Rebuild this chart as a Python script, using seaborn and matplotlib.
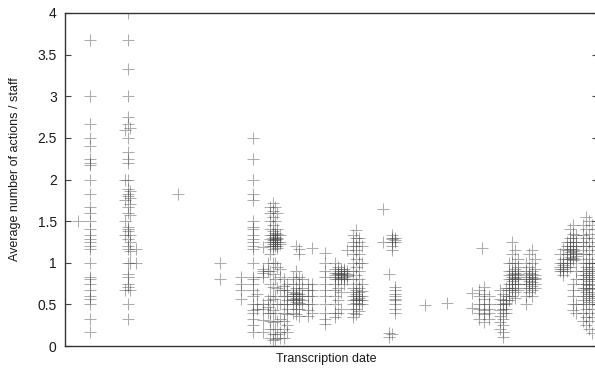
import matplotlib
matplotlib.use("Agg")
import matplotlib.pyplot as plt
import seaborn as sns
import pandas as pd
from matplotlib.ticker import FuncFormatter

# Transcription dates (day index) and the averages recorded on each date
dates = [13, 25, 60, 63, 65, 71, 113, 155, 176, 188, 192, 198, 203, 205, 208, 210,
         212, 215, 219, 222, 228, 231, 234, 237, 243, 247, 260, 270, 273, 276, 279,
         282, 288, 291, 294, 297, 318, 324, 327, 330, 360, 382, 407, 414, 417, 419,
         424, 435, 438, 441, 444, 447, 450, 453, 461, 464, 467, 470, 495, 498, 502,
         505, 508, 511, 518, 521, 524, 527, 530]

values_per_date = [
    [1.5],
    [3.67, 3.0, 2.67, 2.5, 2.4, 2.25, 2.2, 2.17, 2.0, 1.83, 1.67, 1.6, 1.5, 1.4, 1.33,
     1.29, 1.25, 1.2, 1.17, 1.0, 0.83, 0.8, 0.75, 0.67, 0.6, 0.57, 0.5, 0.33, 0.17],
    [2.6, 2.0, 1.75, 1.5, 1.33, 0.67],
    [4.0, 3.67, 3.33, 3.0, 2.75, 2.67, 2.5, 2.33, 2.25, 2.2, 2.0, 1.88, 1.83, 1.8, 1.67,
     1.6, 1.43, 1.4, 1.38, 1.29, 1.2, 1.17, 1.0, 0.86, 0.83, 0.75, 0.71, 0.5, 0.33],
    [2.62, 1.86, 1.78, 1.71, 1.57, 1.33, 1.25, 1.14, 1.0, 0.67],
    [1.17, 1.0],
    [1.83],
    [1.0, 0.8],
    [0.83, 0.75, 0.67, 0.57],
    [2.5, 2.25, 2.0, 1.83, 1.75, 1.5, 1.43, 1.4, 1.33, 1.29, 1.25, 1.2, 1.17, 1.0, 0.83,
     0.8, 0.75, 0.67, 0.6, 0.5, 0.43, 0.4, 0.33, 0.25, 0.17],
    [0.62, 0.5, 0.44],
    [1.19, 0.92, 0.9, 0.88, 0.83, 0.5, 0.44, 0.31, 0.17],
    [1.0, 0.9, 0.55, 0.47, 0.4],
    [1.67, 1.6, 1.5, 1.4, 1.33, 1.29, 1.25, 1.2, 1.1, 0.9, 0.75, 0.6, 0.5, 0.4, 0.3, 0.2, 0.1],
    [1.72, 1.62, 1.55, 1.45, 1.38, 1.33, 1.3, 1.27, 1.25, 1.22, 1.2, 1.17, 1.0, 0.86,
     0.71, 0.57, 0.43, 0.29, 0.14, 0.07],
    [1.67, 1.5, 1.36, 1.33, 1.31, 1.29, 1.27, 1.25, 1.22, 1.2, 1.0, 0.8, 0.6, 0.4, 0.2, 0.08],
    [1.6, 1.4, 1.35, 1.3, 1.28, 1.25, 1.2, 1.18, 0.95, 0.7, 0.5, 0.3, 0.15],
    [1.33, 1.25, 1.22, 0.93, 0.83, 0.67, 0.5, 0.33, 0.17, 0.1],
    [0.8, 0.72, 0.67, 0.6, 0.5, 0.4, 0.3, 0.2, 0.1],
    [0.75, 0.67, 0.6, 0.55, 0.5, 0.45, 0.38, 0.25, 0.17],
    [0.83, 0.75, 0.65, 0.62, 0.6, 0.57, 0.55, 0.5, 0.4],
    [1.2, 0.9, 0.8, 0.7, 0.64, 0.62, 0.6, 0.58, 0.55, 0.53, 0.5, 0.45, 0.38],
    [1.17, 1.1, 0.83, 0.75, 0.67, 0.63, 0.6, 0.57, 0.52, 0.45, 0.36],
    [0.8, 0.7, 0.6, 0.55, 0.5],
    [0.75, 0.67, 0.6, 0.5, 0.43, 0.36],
    [1.18, 0.75, 0.67, 0.6, 0.5, 0.4],
    [1.12, 1.0, 0.9, 0.83, 0.75, 0.67, 0.6, 0.5, 0.4, 0.33, 0.27],
    [1.0, 0.92, 0.88, 0.85, 0.83, 0.8, 0.75, 0.67, 0.6, 0.5, 0.4, 0.35],
    [0.95, 0.9, 0.88, 0.86, 0.83, 0.8, 0.7, 0.55, 0.4],
    [0.93, 0.9, 0.87, 0.85, 0.82, 0.8, 0.65, 0.45],
    [0.92, 0.9, 0.88, 0.85, 0.83, 0.8, 0.75],
    [1.15, 0.9, 0.86, 0.84, 0.81],
    [1.33, 1.25, 1.2, 1.1, 1.0, 0.9, 0.8, 0.7, 0.65, 0.6, 0.55, 0.5, 0.45, 0.4, 0.35],
    [1.39, 1.3, 1.2, 1.15, 1.05, 0.95, 0.85, 0.75, 0.67, 0.63, 0.6, 0.57, 0.55, 0.52, 0.45, 0.38],
    [1.3, 1.25, 1.1, 1.0, 0.9, 0.8, 0.7, 0.65, 0.6, 0.58, 0.55, 0.5, 0.42],
    [1.2, 1.0, 0.75, 0.66, 0.6, 0.55, 0.5],
    [1.65, 1.25],
    [0.86, 0.16, 0.11],
    [1.33, 1.3, 1.29, 1.25, 1.2, 1.15, 0.14],
    [1.3, 1.27, 1.25, 0.71, 0.67, 0.62, 0.6, 0.57, 0.55, 0.5, 0.45, 0.4],
    [0.49],
    [0.52],
    [0.64, 0.46],
    [0.67, 0.6, 0.5, 0.45, 0.4, 0.33],
    [1.18],
    [0.71, 0.62, 0.57, 0.5, 0.43, 0.38, 0.29],
    [0.6, 0.5, 0.45, 0.4, 0.33],
    [0.67, 0.57, 0.5, 0.43, 0.36, 0.29, 0.2],
    [0.62, 0.55, 0.5, 0.45, 0.4, 0.33, 0.25, 0.17, 0.11],
    [0.7, 0.6, 0.55, 0.52, 0.5, 0.45, 0.4],
    [1.0, 0.9, 0.85, 0.8, 0.75, 0.7, 0.67, 0.6, 0.55],
    [1.25, 1.1, 1.0, 0.9, 0.86, 0.83, 0.8, 0.78, 0.75, 0.7, 0.67, 0.6],
    [1.15, 1.0, 0.92, 0.88, 0.85, 0.82, 0.8, 0.75, 0.7, 0.65, 0.58],
    [1.05, 0.95, 0.9, 0.86, 0.83, 0.8, 0.75, 0.67],
    [1.0, 0.9, 0.85, 0.8, 0.75, 0.7, 0.6, 0.5],
    [1.1, 0.95, 0.88, 0.83, 0.8, 0.78, 0.75, 0.7, 0.65],
    [1.15, 1.0, 0.9, 0.86, 0.83, 0.8, 0.77, 0.72, 0.67, 0.6],
    [1.05, 0.92, 0.85, 0.82, 0.8, 0.75, 0.7],
    [1.1, 1.0, 0.95, 0.92, 0.9],
    [1.17, 1.05, 1.0, 0.97, 0.93, 0.9, 0.85],
    [1.25, 1.2, 1.15, 1.1, 1.05, 1.0, 0.95, 0.9],
    [1.4, 1.3, 1.25, 1.2, 1.17, 1.13, 1.1, 1.07, 1.04, 1.0, 0.95],
    [1.45, 1.35, 1.3, 1.25, 1.2, 1.17, 1.14, 1.1, 1.06, 1.03, 0.75, 0.67, 0.6, 0.5, 0.43],
    [1.33, 1.25, 1.2, 1.15, 1.12, 1.08, 1.05, 0.9, 0.8, 0.5, 0.4],
    [1.45, 1.33, 1.25, 1.2, 1.1, 1.0, 0.9, 0.85, 0.8, 0.75, 0.7, 0.67, 0.6, 0.55, 0.5, 0.4, 0.3],
    [1.55, 1.4, 1.3, 1.2, 1.1, 1.0, 0.95, 0.9, 0.85, 0.8, 0.75, 0.7, 0.65, 0.6, 0.5, 0.45, 0.35, 0.25],
    [1.5, 1.35, 1.25, 1.15, 1.05, 1.0, 0.93, 0.88, 0.83, 0.78, 0.73, 0.68, 0.63, 0.58, 0.53, 0.4, 0.3, 0.2],
    [1.45, 1.3, 1.2, 1.1, 1.0, 0.95, 0.9, 0.85, 0.8, 0.75, 0.7, 0.65, 0.6, 0.55, 0.45, 0.35, 0.16],
    [1.4, 1.2, 1.0, 0.9, 0.8, 0.7, 0.6, 0.5],
]

y_ticks = [0, 0.5, 1, 1.5, 2, 2.5, 3, 3.5, 4]
x_label = "Transcription date"
y_label = "Average number of actions / staff"

rows = [(d, v) for d, vals in zip(dates, values_per_date) for v in vals]
df = pd.DataFrame(rows, columns=["date", "value"])

sns.set_theme(style="white")
plt.rcParams["font.family"] = ["Liberation Sans", "DejaVu Sans"]

fig = plt.figure(figsize=(5.95, 3.69), dpi=100)
ax = fig.add_axes([65 / 595, 23 / 369, 533 / 595, 333 / 369])

sns.scatterplot(data=df, x="date", y="value", marker="+", s=85, color="#4a4a4a",
                alpha=0.45, linewidth=0.75, ax=ax, legend=False)

ax.set_xlim(0, 533)
ax.set_ylim(0, 4)
ax.set_yticks(y_ticks)
ax.yaxis.set_major_formatter(FuncFormatter(lambda v, p: f"{v:g}"))
ax.set_xticks([])
ax.tick_params(axis="y", direction="in", length=4, width=0.8, color="#444444",
               labelsize=10, pad=6, left=True, right=True, labelcolor="#1a1a1a")
for s in ax.spines.values():
    s.set_color("#333333")
    s.set_linewidth(1.0)
ax.set_xlabel(x_label, fontsize=9, color="#1a1a1a")
ax.set_ylabel(y_label, fontsize=9, color="#1a1a1a")
ax.xaxis.set_label_coords(0.49, -0.022)
ax.yaxis.set_label_coords(-0.082, 0.53)

fig.savefig("out.png", dpi=100)
